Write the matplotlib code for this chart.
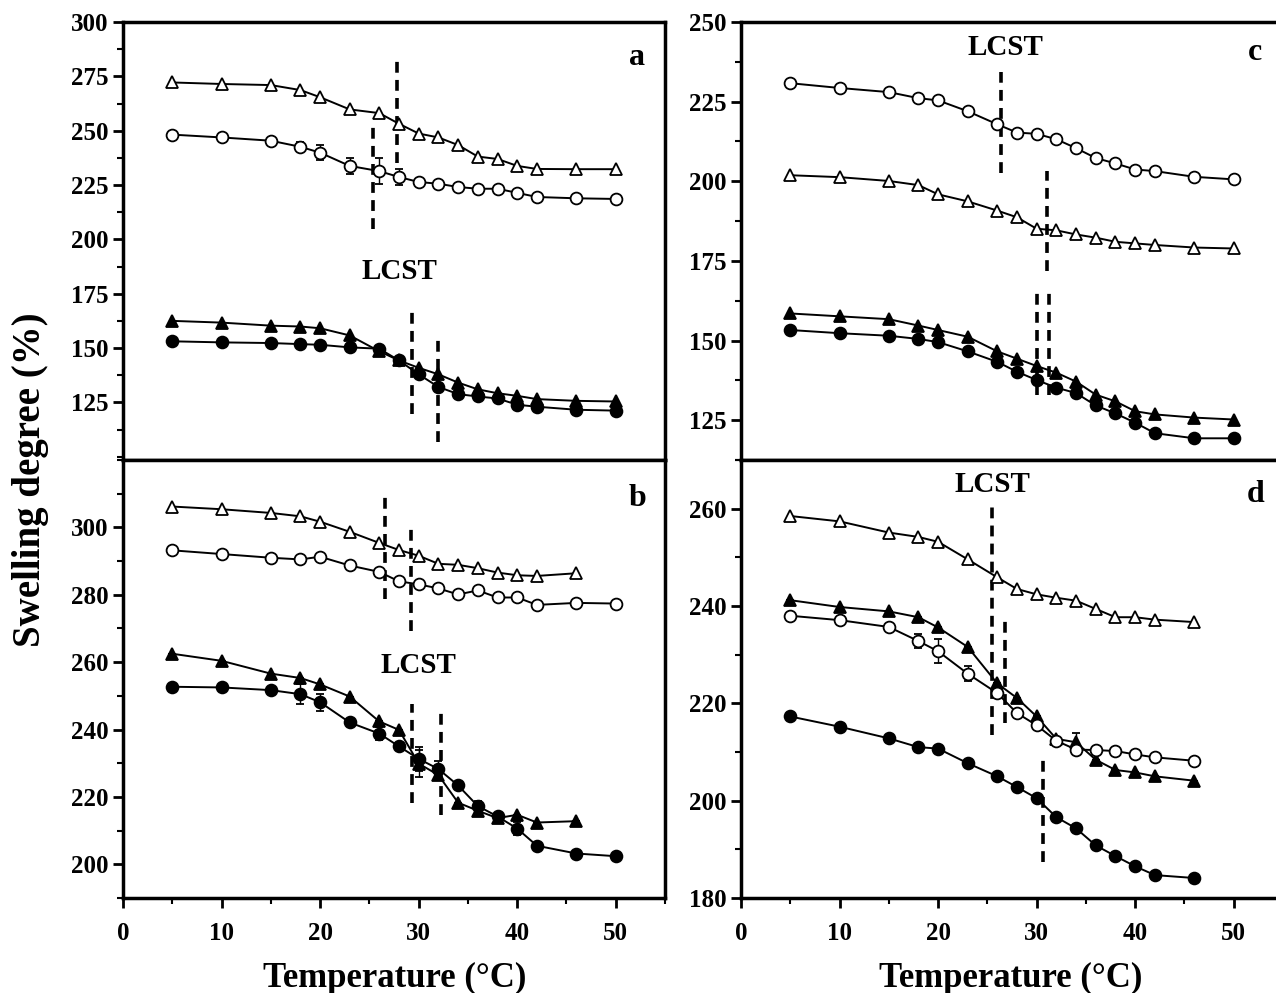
import matplotlib
matplotlib.use('Agg')
import matplotlib.pyplot as plt
from matplotlib.ticker import MultipleLocator

# temperatures (°C)
temps = [5, 10, 15, 18, 20, 23, 26, 28, 30, 32, 34, 36, 38, 40, 42, 46, 50]
temps46 = temps[:-1]

# panel a
a_open_tri = [272.2, 271.5, 271.0, 268.7, 265.4, 259.8, 258.1, 253.2, 248.7, 246.9, 243.4, 238.1, 237.0, 233.8, 232.4, 232.3, 232.3]
a_open_circ = [248.2, 246.9, 245.4, 242.6, 239.9, 233.8, 231.4, 228.7, 226.4, 225.6, 224.1, 223.3, 223.3, 221.4, 219.5, 218.9, 218.6]
a_open_circ_err = [0, 0, 0, 2, 3.5, 3.5, 6, 3.5, 0, 0, 0, 0, 0, 0, 0, 0, 0]
a_fill_tri = [162.5, 161.7, 160.3, 159.9, 159.1, 155.8, 148.5, 144.3, 140.9, 137.9, 134.1, 131.0, 129.2, 128.0, 126.5, 125.7, 125.4]
a_fill_circ = [153.1, 152.6, 152.3, 151.8, 151.5, 150.3, 149.7, 144.3, 137.9, 132.1, 128.8, 127.7, 126.8, 123.9, 123.0, 121.6, 121.2]
a_lcst = [(25.4, 204.7, 251.7), (27.8, 235.0, 282.8), (29.3, 119.7, 166.7), (32.0, 106.8, 153.8)]

# panel b
b_open_tri = [306.2, 305.4, 304.3, 303.3, 301.7, 298.7, 295.4, 293.3, 291.6, 289.2, 288.9, 287.9, 286.6, 285.8, 285.6, 286.4]
b_open_circ = [293.2, 292.1, 291.0, 290.5, 291.3, 288.7, 286.8, 284.0, 283.1, 281.9, 280.1, 281.3, 279.2, 279.2, 277.0, 277.6, 277.4]
b_fill_tri = [262.5, 260.4, 256.6, 255.3, 253.4, 249.8, 242.4, 239.9, 229.9, 226.5, 218.3, 215.9, 213.7, 214.7, 212.4, 212.8]
b_fill_tri_err = [0, 0, 0, 0, 0, 0, 0, 0, 4, 0, 0, 0, 0, 0, 0, 0]
b_fill_circ = [252.7, 252.5, 251.7, 250.5, 248.1, 242.1, 238.8, 235.0, 231.3, 228.3, 223.4, 217.3, 214.2, 210.6, 205.5, 203.2, 202.4]
b_fill_circ_err = [0, 0, 0, 3, 2.5, 0, 2, 0, 3.5, 2.5, 0, 1.5, 0, 2, 0, 0, 0]
b_lcst = [(26.6, 278.9, 309.2), (29.2, 269.2, 299.5), (29.3, 218.3, 247.6), (32.3, 214.7, 245.0)]

# panel c
c_open_circ = [230.8, 229.3, 228.0, 226.1, 225.4, 222.0, 217.9, 215.3, 214.9, 213.2, 210.4, 207.3, 205.6, 203.7, 203.2, 201.4, 200.6]
c_open_tri = [201.9, 201.3, 200.1, 198.8, 195.9, 193.7, 190.8, 188.7, 185.1, 184.6, 183.3, 182.3, 181.0, 180.5, 180.0, 179.2, 178.9]
c_fill_tri = [158.5, 157.6, 156.7, 154.7, 153.3, 151.2, 146.6, 144.3, 142.0, 139.9, 137.1, 133.0, 130.9, 127.8, 126.8, 125.8, 125.2]
c_fill_circ = [153.3, 152.3, 151.5, 150.5, 149.5, 146.6, 143.3, 140.2, 137.6, 135.2, 133.5, 129.6, 127.1, 124.2, 120.9, 119.3, 119.3]
c_lcst = [(26.4, 202.7, 234.2), (31.1, 171.7, 203.2), (30.0, 133.0, 165.0), (31.3, 133.0, 165.0)]

# panel d (up to 46 °C)
d_open_tri = [258.5, 257.4, 255.1, 254.2, 253.2, 249.6, 245.9, 243.5, 242.4, 241.7, 241.1, 239.4, 237.7, 237.7, 237.2, 236.7]
d_fill_tri = [241.2, 239.8, 238.9, 237.7, 235.6, 231.6, 224.1, 221.1, 217.3, 212.7, 212.0, 208.4, 206.3, 205.8, 205.0, 204.1]
d_fill_tri_err = [0, 0, 0, 0, 0, 0, 0, 0, 0, 0, 2, 0, 0, 0, 0, 0]
d_open_circ = [238.0, 237.1, 235.7, 232.8, 230.7, 226.1, 222.1, 218.0, 215.5, 212.3, 210.5, 210.4, 210.2, 209.5, 208.9, 208.2]
d_open_circ_err = [0, 0, 0, 1.5, 2.5, 1.5, 0, 0, 0, 0, 0, 0, 0, 0, 0, 0]
d_fill_circ = [217.3, 215.2, 212.8, 211.0, 210.7, 207.7, 205.0, 202.8, 200.5, 196.6, 194.3, 190.8, 188.6, 186.5, 184.7, 184.1]
d_lcst = [(25.5, 213.4, 260.5), (26.8, 215.9, 237.7), (30.6, 187.3, 208.8)]

plt.rcParams['font.family'] = 'Liberation Serif'
plt.rcParams['font.weight'] = 'bold'

fig = plt.figure(figsize=(12.76, 9.93), dpi=100)
W, H = 0.4248, 0.441
ax_a = fig.add_axes([0.0964, 0.5368, W, H])
ax_b = fig.add_axes([0.0964, 0.0957, W, H])
ax_c = fig.add_axes([0.5807, 0.5368, W, H])
ax_d = fig.add_axes([0.5807, 0.0957, W, H])


def series(ax, x, y, marker, filled, err=None):
    ax.errorbar(x, y, yerr=err, color='k', marker=marker, ms=8.5,
                mfc='k' if filled else 'white', mec='k', mew=1.3, lw=1.4,
                capsize=3, elinewidth=1, capthick=1)


def style(ax, ylim, yticks, yminor, bottom_labels):
    ax.set_xlim(0, 55)
    ax.set_ylim(*ylim)
    ax.set_xticks([0, 10, 20, 30, 40, 50])
    ax.xaxis.set_minor_locator(MultipleLocator(5))
    ax.set_yticks(yticks)
    ax.yaxis.set_minor_locator(MultipleLocator(yminor))
    for s in ax.spines.values():
        s.set_linewidth(2.5)
    ax.tick_params(which='major', direction='out', length=7, width=2, labelsize=18)
    ax.tick_params(which='minor', direction='out', length=4, width=1.5)
    ax.tick_params(axis='x', which='major', pad=10)
    if not bottom_labels:
        ax.tick_params(axis='x', labelbottom=False)


def lcst(ax, lines, tx, ty, letter, ly):
    for x, y0, y1 in lines:
        ax.vlines(x, y0, y1, colors='k', linestyles=(0, (3, 2)), lw=2.6)
    ax.text(tx, ty, 'LCST', ha='center', va='center', fontsize=21, fontweight='bold')
    ax.text(52.2, ly, letter, ha='center', va='center', fontsize=23, fontweight='bold')


# a
series(ax_a, temps, a_open_tri, '^', False)
series(ax_a, temps, a_open_circ, 'o', False, a_open_circ_err)
series(ax_a, temps, a_fill_tri, '^', True)
series(ax_a, temps, a_fill_circ, 'o', True)
style(ax_a, (98.5, 300), list(range(125, 301, 25)), 12.5, False)
lcst(ax_a, a_lcst, 28.0, 185, 'a', 283.5)

# b
series(ax_b, temps46, b_open_tri, '^', False)
series(ax_b, temps, b_open_circ, 'o', False)
series(ax_b, temps46, b_fill_tri, '^', True, b_fill_tri_err)
series(ax_b, temps, b_fill_circ, 'o', True, b_fill_circ_err)
style(ax_b, (190, 320), list(range(200, 301, 20)), 10, True)
lcst(ax_b, b_lcst, 30.0, 259, 'b', 308.5)

# c
series(ax_c, temps, c_open_circ, 'o', False)
series(ax_c, temps, c_open_tri, '^', False)
series(ax_c, temps, c_fill_tri, '^', True)
series(ax_c, temps, c_fill_circ, 'o', True)
style(ax_c, (112.5, 250), list(range(125, 251, 25)), 12.5, False)
lcst(ax_c, c_lcst, 26.8, 242, 'c', 240.5)

# d
series(ax_d, temps46, d_open_tri, '^', False)
series(ax_d, temps46, d_fill_tri, '^', True, d_fill_tri_err)
series(ax_d, temps46, d_open_circ, 'o', False, d_open_circ_err)
series(ax_d, temps46, d_fill_circ, 'o', True)
style(ax_d, (180, 270), list(range(180, 261, 20)), 10, True)
lcst(ax_d, d_lcst, 25.5, 265, 'd', 263)

fig.text(0.309, 0.006, 'Temperature (\u00b0C)', ha='center', va='baseline', fontsize=25, fontweight='bold')
fig.text(0.792, 0.006, 'Temperature (\u00b0C)', ha='center', va='baseline', fontsize=25, fontweight='bold')
fig.text(0.024, 0.5166, 'Swelling degree (%)', ha='center', va='center', rotation=90, fontsize=28, fontweight='bold')

fig.savefig('out.png', dpi=100)
